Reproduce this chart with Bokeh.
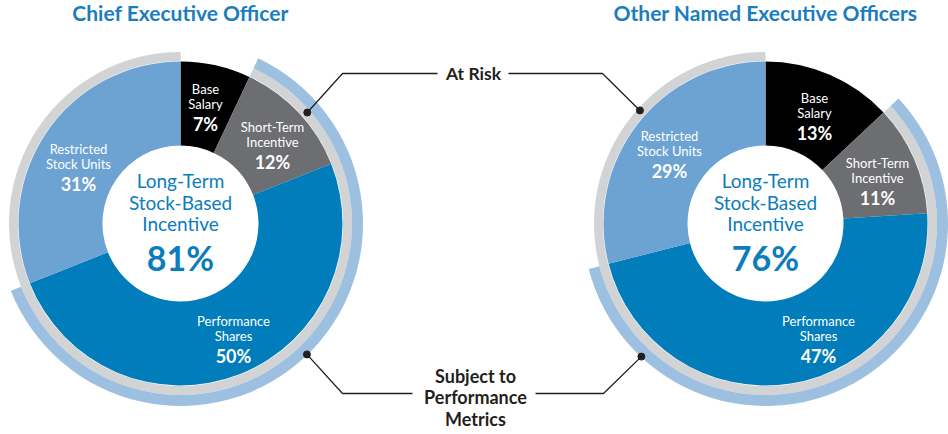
import numpy as np
from bokeh.plotting import figure
from bokeh.models import Range1d
from bokeh.embed import file_html
from bokeh.resources import INLINE
from bokeh.core.properties import value

# ---------------- data ----------------
categories = ["Base Salary", "Short-Term Incentive", "Performance Shares", "Restricted Stock Units"]
label_lines = [("Base", "Salary"), ("Short-Term", "Incentive"),
               ("Performance", "Shares"), ("Restricted", "Stock Units")]
ceo_pct = [7, 12, 50, 31]
neo_pct = [13, 11, 47, 29]
long_term = [False, False, True, True]
at_risk = [False, True, True, True]
performance_based = [False, True, True, False]
titles = ["Chief Executive Officer", "Other Named Executive Officers"]
center_lines = ["Long-Term", "Stock-Based", "Incentive"]
callout_at_risk = ["At Risk"]
callout_perf = ["Subject to", "Performance", "Metrics"]

# ---------------- styling / layout ----------------
slice_colors = ["#000000", "#6d6e71", "#007dba", "#6ca3d2"]
ring_risk_color = "#d1d3d4"
ring_perf_color = "#9dc0e1"
title_color = "#1a7dc0"
center_color = "#0b7cbc"
FONT = value("Lato")

R_IN, R_PIE = 78, 162
R_RISK = (162.5, 171.5)
R_PERF = (171.5, 182.5)

# label offsets (middle line) relative to pie centre, screen px (y down)
label_offsets = [
    [(25, -120), (92, -82), (53, 112), (-102, -60)],
    [(49, -111), (112, -46), (53, 112), (-96, -73)],
]
centers = [(180, 223), (765, 223)]

W, H = 948, 434
p = figure(width=W, height=H, x_range=Range1d(0, W), y_range=Range1d(-H, 0),
           output_backend="svg", toolbar_location=None,
           x_axis_location=None, y_axis_location=None, min_border=0)
p.grid.visible = False
p.outline_line_color = None
p.background_fill_color = "white"
p.border_fill_color = "white"


def ang(f):
    return np.pi / 2 - 2 * np.pi * f / 100.0


def span(pcts, flags):
    cum = np.concatenate([[0], np.cumsum(pcts)])
    idx = [i for i, f in enumerate(flags) if f]
    return cum[min(idx)], cum[max(idx) + 1]


def Y(y):
    return -y


for k, (pcts, title) in enumerate(zip([ceo_pct, neo_pct], titles)):
    cx, cy = centers[k]
    cum = np.concatenate([[0], np.cumsum(pcts)])

    # outer rings
    f0, f1 = span(pcts, at_risk)
    p.annular_wedge(x=cx, y=Y(cy), inner_radius=R_RISK[0], outer_radius=R_RISK[1],
                    start_angle=ang(f1), end_angle=ang(f0), direction="anticlock",
                    fill_color=ring_risk_color, line_color=None)
    f0, f1 = span(pcts, performance_based)
    p.annular_wedge(x=cx, y=Y(cy), inner_radius=R_PERF[0], outer_radius=R_PERF[1],
                    start_angle=ang(f1), end_angle=ang(f0), direction="anticlock",
                    fill_color=ring_perf_color, line_color=None)

    # slices
    p.annular_wedge(x=[cx] * 4, y=[Y(cy)] * 4, inner_radius=R_IN, outer_radius=R_PIE,
                    start_angle=[ang(v) for v in cum[1:]], end_angle=[ang(v) for v in cum[:-1]],
                    direction="anticlock", fill_color=slice_colors, line_color=None)

    # slice labels
    for i in range(4):
        dx, dy = label_offsets[k][i]
        lx, ly = cx + dx, cy + dy
        p.text(x=[lx, lx], y=[Y(ly - 15), Y(ly)], text=list(label_lines[i]),
               text_font=FONT, text_font_size="13px", text_color="white",
               text_align="center", text_baseline="middle")
        p.text(x=[lx], y=[Y(ly + 20.5)], text=[f"{pcts[i]}%"],
               text_font=FONT, text_font_size="18px", text_font_style="bold",
               text_color="white", text_align="center", text_baseline="middle")

    # centre text
    p.text(x=[cx] * 3, y=[Y(cy - 43), Y(cy - 21.5), Y(cy)], text=center_lines,
           text_font=FONT, text_font_size="19px", text_color=center_color,
           text_align="center", text_baseline="middle")
    lt_total = sum(v for v, f in zip(pcts, long_term) if f)
    p.text(x=[cx], y=[Y(cy + 34)], text=[f"{lt_total}%"],
           text_font=FONT, text_font_size="34px", text_font_style="bold",
           text_color=center_color, text_align="center", text_baseline="middle")

    # title
    p.text(x=[cx], y=[Y(12)], text=[title], text_font=FONT, text_font_size="21px",
           text_font_style="bold", text_color=title_color,
           text_align="center", text_baseline="middle")


# ---------------- callouts ----------------
def dot(k, deg, r):
    cx, cy = centers[k]
    t = np.radians(deg)
    return cx + r * np.sin(t), cy - r * np.cos(t)


line_kw = dict(line_color="#231f20", line_width=1.3)
# At Risk
d0 = dot(0, 48.8, 168.5)
d1 = dot(1, 312.0, 169.0)
p.line(x=[d0[0], 342, 437], y=[Y(d0[1]), Y(73), Y(73)], **line_kw)
p.line(x=[508, 602, d1[0]], y=[Y(73), Y(73), Y(d1[1])], **line_kw)
p.scatter(x=[d0[0], d1[0]], y=[Y(d0[1]), Y(d1[1])], size=7, color="#231f20")
p.text(x=[473], y=[Y(73)], text=callout_at_risk, text_font=FONT, text_font_size="17.5px",
       text_font_style="bold", text_color="#231f20", text_align="center", text_baseline="middle")

# Subject to Performance Metrics
e0 = dot(0, 136.0, 182.0)
e1 = dot(1, 223.0, 182.0)
p.line(x=[e0[0], 342, 412], y=[Y(e0[1]), Y(393), Y(393)], **line_kw)
p.line(x=[535, 603, e1[0]], y=[Y(393), Y(393), Y(e1[1])], **line_kw)
p.scatter(x=[e0[0], e1[0]], y=[Y(e0[1]), Y(e1[1])], size=7, color="#231f20")
p.text(x=[475] * 3, y=[Y(375), Y(396.5), Y(418)], text=callout_perf, text_font=FONT,
       text_font_size="18px", text_font_style="bold", text_color="#231f20",
       text_align="center", text_baseline="middle")

open("out.html", "w").write(file_html(p, INLINE))
